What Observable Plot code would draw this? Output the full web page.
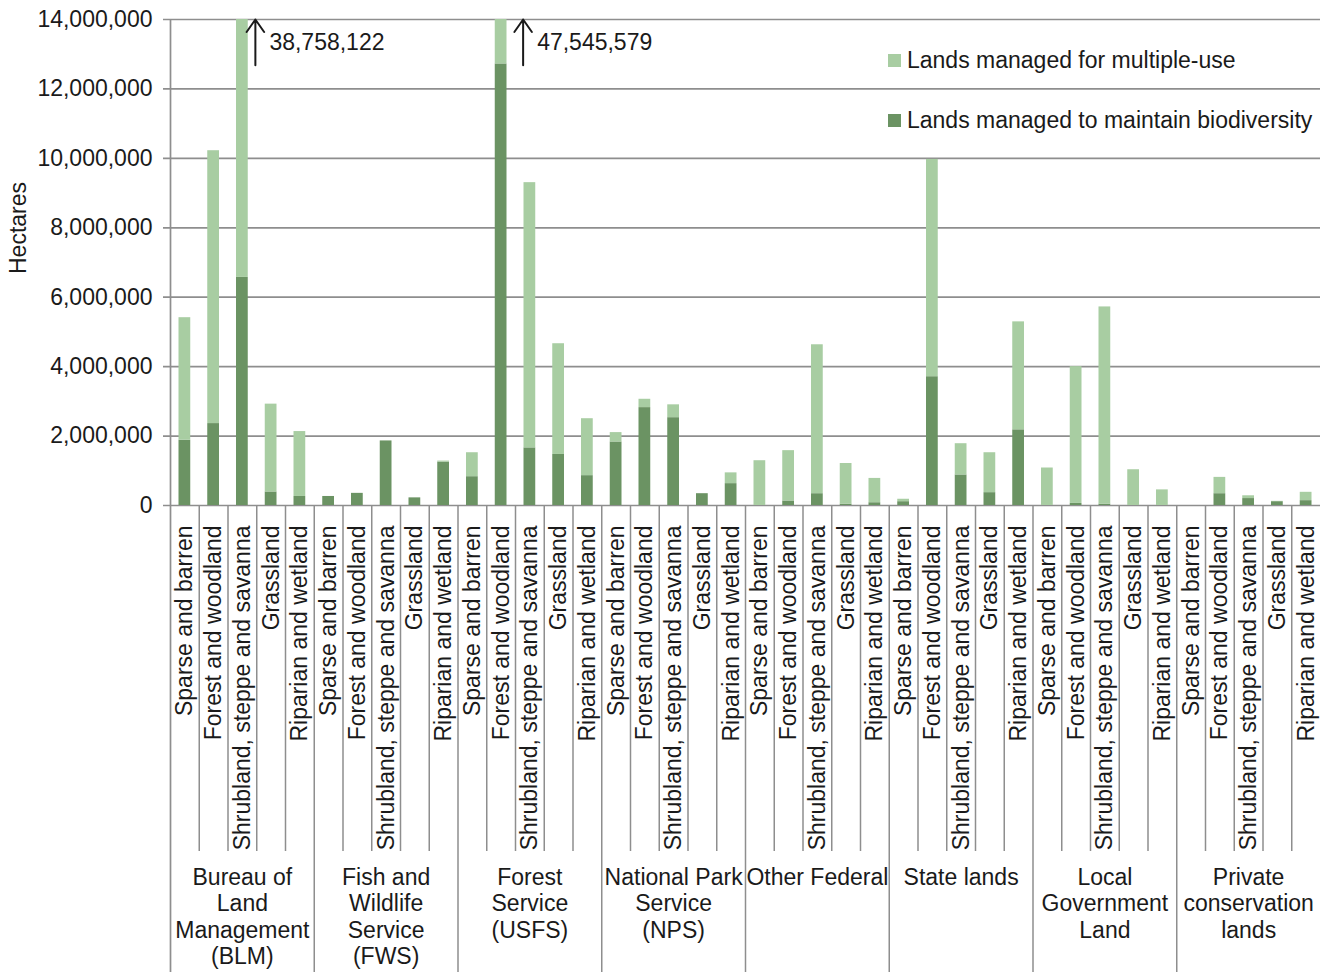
<!DOCTYPE html>
<html><head><meta charset="utf-8">
<script src="https://cdn.jsdelivr.net/npm/d3@7"></script>
<script src="https://cdn.jsdelivr.net/npm/@observablehq/plot@0.6"></script>
<style>
body{margin:0;background:#fff;font-family:"Liberation Sans",Arial,sans-serif;color:#1a1a1a}
#wrap{position:relative;width:1320px;height:972px;overflow:hidden}
.leg{position:absolute;left:888px;font-size:23px;line-height:26px;display:flex;align-items:center;white-space:nowrap}
.sw{width:13px;height:13px;margin-right:6px;display:inline-block}
#ylab{position:absolute;left:18px;top:228px;transform:translate(-50%,-50%) rotate(-90deg);font-size:23px;white-space:nowrap}
</style></head><body><div id="wrap"></div>
<script>
const groups = ["BLM", "FWS", "USFS", "NPS", "Other Federal", "State lands", "Local Government Land", "Private conservation lands"];
const groupLabels = [
  "Bureau of\nLand\nManagement\n(BLM)",
  "Fish and\nWildlife\nService\n(FWS)",
  "Forest\nService\n(USFS)",
  "National Park\nService\n(NPS)",
  "Other Federal",
  "State lands",
  "Local\nGovernment\nLand",
  "Private\nconservation\nlands"
];
const categories = ["Sparse and barren", "Forest and woodland", "Shrubland, steppe and savanna", "Grassland", "Riparian and wetland"];
const seriesNames = ["Lands managed for multiple-use", "Lands managed to maintain biodiversity"];

// hectares, grouped by agency (5 land-cover categories each)
const biodiversity = [
  1880000, 2360000, 6570000, 390000, 260000,
  260000, 350000, 1860000, 220000, 1250000,
  830000, 12720000, 1660000, 1470000, 860000,
  1830000, 2820000, 2530000, 340000, 630000,
  0, 130000, 340000, 40000, 80000,
  110000, 3710000, 880000, 370000, 2180000,
  0, 60000, 40000, 0, 0,
  0, 340000, 200000, 110000, 140000
];
const multipleUse = [
  3530000, 7860000, 32188122, 2530000, 1870000,
  0, 0, 0, 0, 30000,
  690000, 34825579, 7640000, 3190000, 1640000,
  270000, 240000, 370000, 0, 310000,
  1290000, 1450000, 4290000, 1170000, 700000,
  70000, 6260000, 900000, 1150000, 3110000,
  1080000, 3940000, 5680000, 1030000, 450000,
  0, 470000, 80000, 10000, 240000
];
const yMax = 14000000;
const yTicks = [0, 2000000, 4000000, 6000000, 8000000, 10000000, 12000000, 14000000];

const colors = ["#a8cda2", "#6b9363"];
const gridColor = "#8e8e8e";
const ink = "#1a1a1a";
const W = 1320, H = 972, mL = 170, mR = 0, mT = 19, baseY = 505, sepBottom = 851;
const arrowSpan = 1320000;
const annotDx = [13, 22];

const rows = [];
groups.forEach((g, gi) => categories.forEach((c, ci) => {
  const i = gi * categories.length + ci;
  rows.push({key: g + "|" + c, group: g, gi, category: c, ci,
    bio: biodiversity[i], multi: multipleUse[i], total: biodiversity[i] + multipleUse[i]});
}));
const keys = rows.map(d => d.key);
const step = (W - mL - mR) / keys.length;
const segs = rows.flatMap(d => [
  {key: d.key, series: seriesNames[1], y1: 0, y2: d.bio},
  {key: d.key, series: seriesNames[0], y1: d.bio, y2: d.total}
]);
const offScale = rows.filter(d => d.total > yMax);
const fmt = d3.format(",");

const marks = [
  Plot.ruleY(yTicks, {y: d => d, stroke: gridColor, strokeWidth: 1.7, insetLeft: -7}),
  Plot.barY(segs, {x: "key", y1: "y1", y2: "y2", fill: "series", insetLeft: 8.5, insetRight: 8.5, clip: true}),
  Plot.ruleX(rows.filter(d => d.ci > 0), {x: "key", dx: -step / 2, stroke: gridColor, strokeWidth: 1.5, insetTop: baseY - mT, insetBottom: H - sepBottom}),
  Plot.ruleX(rows.filter(d => d.ci === 0 && d.gi > 0), {x: "key", dx: -step / 2, stroke: gridColor, strokeWidth: 1.5, insetTop: baseY - mT}),
  Plot.ruleX(rows.slice(0, 1), {x: "key", dx: -step / 2, stroke: gridColor, strokeWidth: 1.7}),
  Plot.text(rows, {x: "key", y: () => 0, text: "category", rotate: -90, textAnchor: "end", dy: 20, fontSize: 23, fill: ink}),
  Plot.text(rows.filter(d => d.ci === 2), {x: "key", y: () => 0, text: d => groupLabels[d.gi], lineAnchor: "top", lineHeight: 1.14, dy: 361, fontSize: 23, fill: ink})
];
offScale.forEach((d, k) => {
  marks.push(Plot.arrow([d], {x1: "key", x2: "key", y1: () => yMax - arrowSpan, y2: () => yMax, dx: annotDx[k], stroke: ink, strokeWidth: 2, headLength: 12, headAngle: 70}));
  marks.push(Plot.text([d], {x: "key", y: () => yMax - arrowSpan / 2, text: r => fmt(r.total), dx: annotDx[k] + 14, textAnchor: "start", fontSize: 23, fill: ink}));
});

const chart = Plot.plot({
  width: W, height: H, marginLeft: mL, marginRight: mR, marginTop: mT, marginBottom: 0,
  style: {fontFamily: '"Liberation Sans", Arial, sans-serif', fontSize: "23px", color: ink, background: "#fff"},
  x: {domain: keys, padding: 0, round: false, axis: null},
  y: {domain: [0, yMax], range: [baseY, mT], ticks: yTicks, tickFormat: fmt, tickSize: 0, tickPadding: 18, label: null},
  color: {domain: seriesNames, range: colors},
  marks
});
const wrap = document.getElementById("wrap");
wrap.appendChild(chart);

seriesNames.forEach((s, i) => {
  const div = document.createElement("div");
  div.className = "leg";
  div.style.top = (47 + i * 60) + "px";
  div.innerHTML = `<span class="sw" style="background:${colors[i]}"></span><span>${s}</span>`;
  wrap.appendChild(div);
});
const yl = document.createElement("div");
yl.id = "ylab";
yl.textContent = "Hectares";
wrap.appendChild(yl);
</script>
</body></html>
